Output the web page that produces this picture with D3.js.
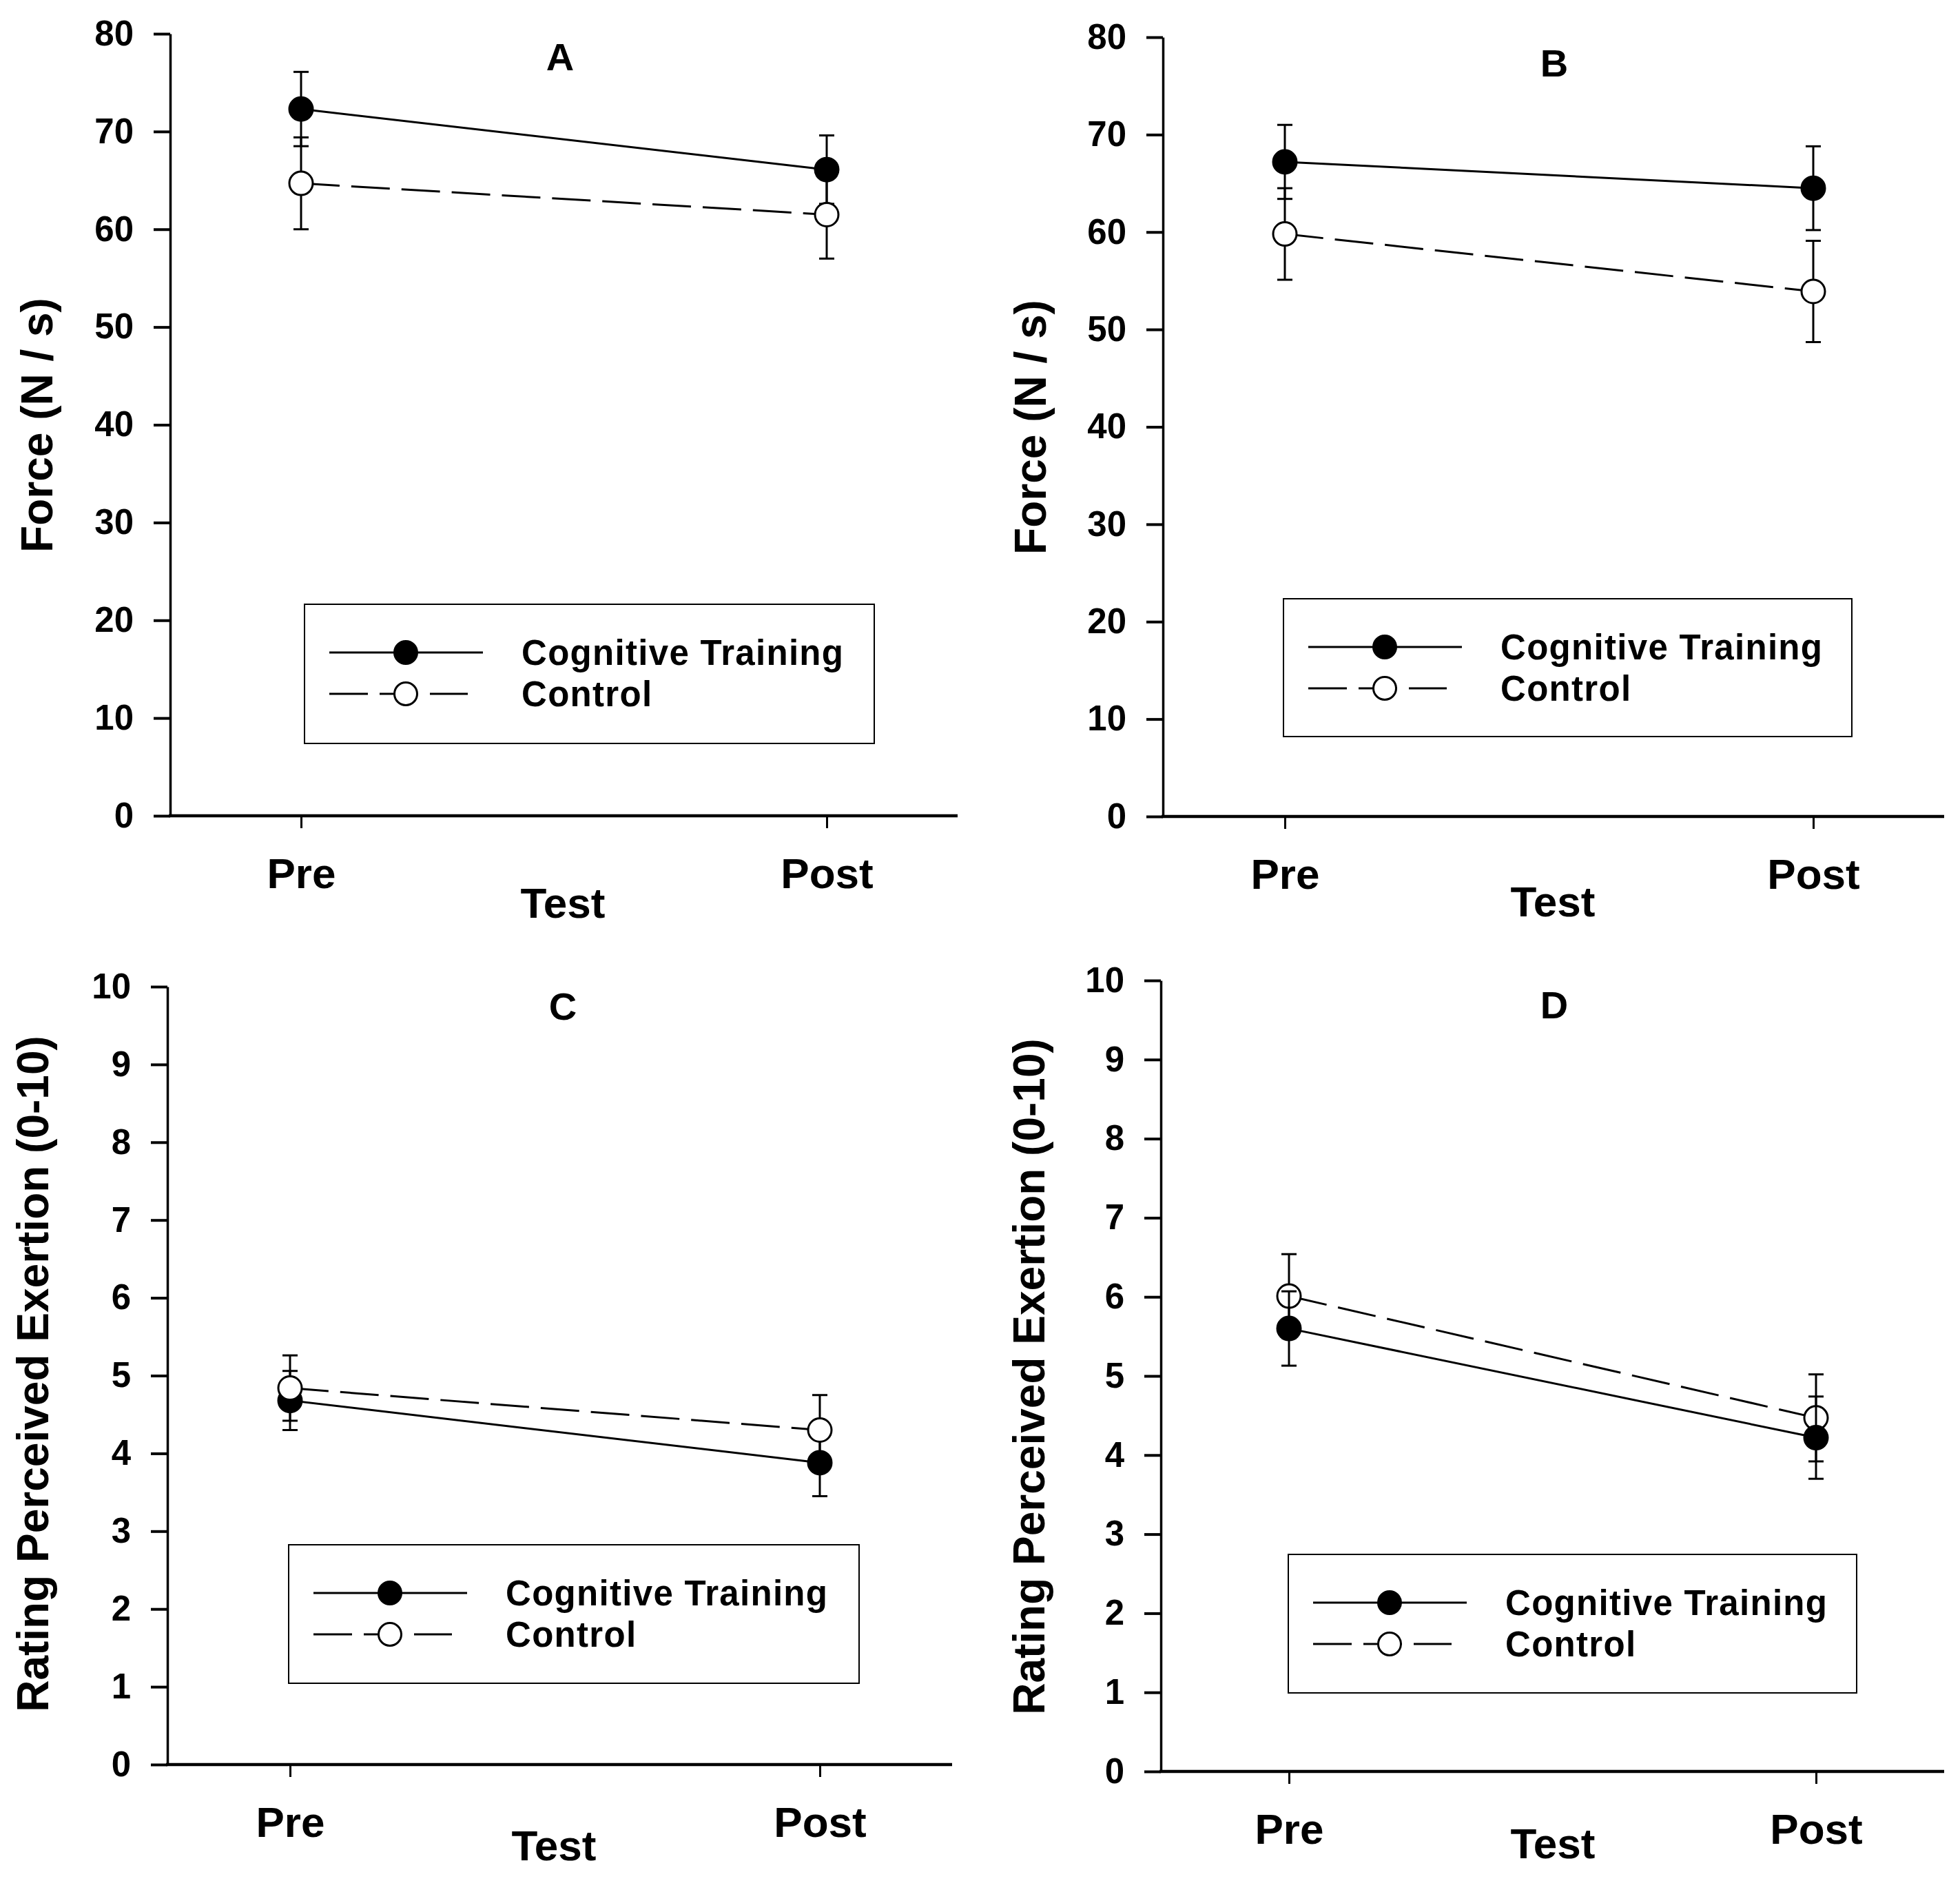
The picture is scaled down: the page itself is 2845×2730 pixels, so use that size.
<!DOCTYPE html>
<html lang="en">
<head>
<title>Force and RPE - pre / post</title>
<meta charset="utf-8">
<script src="https://cdn.jsdelivr.net/npm/d3@7"></script>
<style type="text/css">
  body { margin: 0; background: #fff; }
  svg text { font-family: 'Liberation Sans', Arial, sans-serif; font-weight: bold; fill: #000; }
</style>
</head>
<body>
<div id="chart"></div>
<script>

/* Data */
/* ==== */

var categories = ['Pre', 'Post'];
var seriesNames = ['Cognitive Training', 'Control'];

var forceTicks = [0, 10, 20, 30, 40, 50, 60, 70, 80];
var rpeTicks = [0, 1, 2, 3, 4, 5, 6, 7, 8, 9, 10];

// Panel A - force
var aTraining = [72.3, 66.1], aTrainingErr = [3.8, 3.5];
var aControl = [64.7, 61.5], aControlErr = [4.7, 4.5];

// Panel B - force
var bTraining = [67.2, 64.5], bTrainingErr = [3.8, 4.3];
var bControl = [59.8, 53.9], bControlErr = [4.7, 5.2];

// Panel C - RPE
var cTraining = [4.68, 3.88], cTrainingErr = [0.38, 0.43];
var cControl = [4.84, 4.30], cControlErr = [0.42, 0.45];

// Panel D - RPE
var dTraining = [5.60, 4.22], dTrainingErr = [0.47, 0.52];
var dControl = [6.01, 4.47], dControlErr = [0.53, 0.55];


/* Setup */
/* ===== */

var width = 2845,
    height = 2730;

var svg = d3.select('#chart').append('svg')
    .attr('width', width)
    .attr('height', height);

var dash = '56,17',
    radius = 17;

// layout per panel (pixels)
var panels = [
  { letter: 'A', ticks: forceTicks, yLabel: 'Force (N / s)', training: aTraining, trainingErr: aTrainingErr, control: aControl, controlErr: aControlErr,
    axisX: 247, y0: 1184, yTop: 49, xEnd: 1390, pre: 437, post: 1200, title: [813, 82],
    legend: [442, 877, 827, 202], testX: 817, testY: 1332, yLabelPos: [53, 617], controlFirst: false },
  { letter: 'B', ticks: forceTicks, yLabel: 'Force (N / s)', training: bTraining, trainingErr: bTrainingErr, control: bControl, controlErr: bControlErr,
    axisX: 1688, y0: 1185, yTop: 54, xEnd: 2822, pre: 1865, post: 2632, title: [2256, 91],
    legend: [1863, 869, 825, 200], testX: 2254, testY: 1330, yLabelPos: [1495, 620], controlFirst: false },
  { letter: 'C', ticks: rpeTicks, yLabel: 'Rating Perceived Exertion (0-10)', training: cTraining, trainingErr: cTrainingErr, control: cControl, controlErr: cControlErr,
    axisX: 243, y0: 2561, yTop: 1432, xEnd: 1382, pre: 421, post: 1190, title: [817, 1460],
    legend: [419, 2242, 828, 201], testX: 804, testY: 2700, yLabelPos: [47, 1994], controlFirst: false },
  { letter: 'D', ticks: rpeTicks, yLabel: 'Rating Perceived Exertion (0-10)', training: dTraining, trainingErr: dTrainingErr, control: dControl, controlErr: dControlErr,
    axisX: 1685, y0: 2571, yTop: 1423, xEnd: 2822, pre: 1871, post: 2636, title: [2256, 1458],
    legend: [1870, 2256, 825, 201], testX: 2254, testY: 2697, yLabelPos: [1493, 1998], controlFirst: true }
];


/* Drawing functions */
/* ================= */

function drawSeries(g, x, y, values, errs, open) {

  var line = d3.line()
      .x(function(d, i) { return x(categories[i]); })
      .y(function(d) { return y(d); });

  g.append('path')
      .datum(values)
      .attr('d', line)
      .attr('fill', 'none')
      .attr('stroke', '#000')
      .attr('stroke-width', 3)
      .attr('stroke-dasharray', open ? dash : null);

  var bars = g.append('g').selectAll('g')
      .data(values)
      .join('g')
      .attr('stroke', '#000')
      .attr('stroke-width', 3);

  bars.append('line')
      .attr('x1', function(d, i) { return x(categories[i]); })
      .attr('x2', function(d, i) { return x(categories[i]); })
      .attr('y1', function(d, i) { return y(d - errs[i]); })
      .attr('y2', function(d, i) { return y(d + errs[i]); });

  [-1, 1].forEach(function(sign) {
    bars.append('line')
        .attr('x1', function(d, i) { return x(categories[i]) - 11; })
        .attr('x2', function(d, i) { return x(categories[i]) + 11; })
        .attr('y1', function(d, i) { return y(d + sign * errs[i]); })
        .attr('y2', function(d, i) { return y(d + sign * errs[i]); });
  });

  g.append('g').selectAll('circle')
      .data(values)
      .join('circle')
      .attr('cx', function(d, i) { return x(categories[i]); })
      .attr('cy', function(d) { return y(d); })
      .attr('r', radius)
      .attr('fill', open ? '#fff' : '#000')
      .attr('stroke', '#000')
      .attr('stroke-width', 3);

} // drawSeries()


function drawLegend(g, box) {

  var lx = box[0], ly = box[1];

  g.append('rect')
      .attr('x', lx).attr('y', ly)
      .attr('width', box[2]).attr('height', box[3])
      .attr('fill', '#fff')
      .attr('stroke', '#000')
      .attr('stroke-width', 2);

  var rows = [ly + 70, ly + 130];

  seriesNames.forEach(function(name, i) {
    var open = i === 1;
    g.append('line')
        .attr('x1', lx + 36).attr('x2', lx + (open ? 237 : 259))
        .attr('y1', rows[i]).attr('y2', rows[i])
        .attr('stroke', '#000')
        .attr('stroke-width', 3)
        .attr('stroke-dasharray', open ? dash : null);
    g.append('circle')
        .attr('cx', lx + 147).attr('cy', rows[i])
        .attr('r', 16.5)
        .attr('fill', open ? '#fff' : '#000')
        .attr('stroke', '#000')
        .attr('stroke-width', 3);
    g.append('text')
        .attr('x', lx + 315).attr('y', rows[i])
        .attr('dy', '0.36em')
        .attr('font-size', 51)
        .attr('letter-spacing', 1.3)
        .text(name);
  });

} // drawLegend()


function drawPanel(p) {

  var g = svg.append('g');

  var y = d3.scaleLinear()
      .domain([0, d3.max(p.ticks)])
      .range([p.y0, p.yTop]);

  var x = d3.scalePoint()
      .domain(categories)
      .range([p.pre, p.post]);

  // Y axis
  var yAxis = d3.axisLeft(y)
      .tickValues(p.ticks)
      .tickSize(24)
      .tickSizeOuter(0)
      .tickPadding(29)
      .tickFormat(d3.format('d'));

  g.append('g')
      .attr('transform', 'translate(' + p.axisX + ',0)')
      .call(yAxis)
      .call(function(s) {
        s.attr('font-size', 51).attr('font-family', null);
        s.select('.domain').attr('stroke-width', 3.5);
        s.selectAll('.tick line').attr('stroke-width', 4);
        s.selectAll('.tick text').attr('fill', '#000');
      });

  // X axis
  g.append('line')
      .attr('x1', p.axisX - 2).attr('x2', p.xEnd)
      .attr('y1', p.y0).attr('y2', p.y0)
      .attr('stroke', '#000')
      .attr('stroke-width', 4.5);

  var xAxis = d3.axisBottom(x)
      .tickSize(18)
      .tickPadding(43);

  g.append('g')
      .attr('transform', 'translate(0,' + p.y0 + ')')
      .call(xAxis)
      .call(function(s) {
        s.attr('font-size', 62).attr('font-family', null);
        s.select('.domain').remove();
        s.selectAll('.tick line').attr('stroke-width', 3);
        s.selectAll('.tick text').attr('fill', '#000');
      });

  // Axis titles
  g.append('text')
      .attr('x', p.testX).attr('y', p.testY)
      .attr('text-anchor', 'middle')
      .attr('font-size', 62)
      .text('Test');

  g.append('text')
      .attr('transform', 'translate(' + p.yLabelPos[0] + ',' + p.yLabelPos[1] + ') rotate(-90)')
      .attr('text-anchor', 'middle')
      .attr('dy', '0.36em')
      .attr('font-size', 64)
      .text(p.yLabel);

  // Panel letter
  g.append('text')
      .attr('x', p.title[0]).attr('y', p.title[1])
      .attr('text-anchor', 'middle')
      .attr('dy', '0.36em')
      .attr('font-size', 56)
      .text(p.letter);

  // Legend
  drawLegend(g, p.legend);

  // Series
  if (p.controlFirst) {
    drawSeries(g, x, y, p.control, p.controlErr, true);
    drawSeries(g, x, y, p.training, p.trainingErr, false);
  } else {
    drawSeries(g, x, y, p.training, p.trainingErr, false);
    drawSeries(g, x, y, p.control, p.controlErr, true);
  }

} // drawPanel()


panels.forEach(drawPanel);

</script>
</body>
</html>
